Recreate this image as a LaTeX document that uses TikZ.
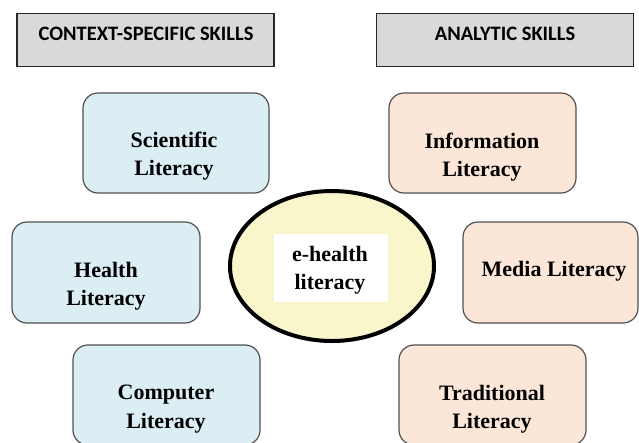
\documentclass[tikz,border=0pt]{standalone}
\usepackage{fontspec}
\setmainfont{Liberation Serif}
\newfontfamily\headfont{Carlito}
\usetikzlibrary{shapes.geometric}
\definecolor{headfill}{HTML}{D9D9D9}
\definecolor{bluefill}{HTML}{DAEEF3}
\definecolor{peachfill}{HTML}{FCE6D8}
\definecolor{corefill}{HTML}{FAF6CC}
\definecolor{boxline}{HTML}{505050}
\tikzset{
  header/.style={draw=black!85, line width=1.3pt, fill=headfill, inner sep=0pt},
  headtext/.style={font=\headfont\bfseries\fontsize{20.5}{24}\selectfont, anchor=base, inner sep=0pt},
  skillbox/.style={draw=boxline, line width=1.2pt, rounded corners=15pt, inner sep=0pt},
  ctxbox/.style={skillbox, fill=bluefill},
  anabox/.style={skillbox, fill=peachfill},
  skilltext/.style={font=\bfseries\fontsize{22}{28.5}\selectfont, align=center, inner sep=0pt},
  core/.style={ellipse, draw=black, line width=4pt, fill=corefill, inner sep=0pt},
}
\begin{document}
\begin{tikzpicture}[x=1pt, y=-1pt]
\useasboundingbox (0,0) rectangle (639,442);
\fill[white] (0,0) rectangle (639,442);

% category headers
\node[header, minimum width=257pt, minimum height=53pt] (hctx) at (145.5,40) {};
\node[headtext] (hctxt) at (146,40.5) {CONTEXT-SPECIFIC SKILLS};
\node[header, minimum width=257pt, minimum height=53pt] (hana) at (505,40) {};
\node[headtext] (hanat) at (505,40.5) {ANALYTIC SKILLS};

% context-specific skills
\node[ctxbox, minimum width=186pt, minimum height=100pt] (sci) at (176,143) {};
\node[skilltext] (scit) at (174,156) {Scientific\\Literacy};
\node[ctxbox, minimum width=188pt, minimum height=101pt] (hea) at (106,272.5) {};
\node[skilltext] (heat) at (106,286) {Health\\Literacy};
\node[ctxbox, minimum width=187pt, minimum height=100pt] (com) at (166.5,395) {};
\node[skilltext] (comt) at (166,409) {Computer\\Literacy};

% analytic skills
\node[anabox, minimum width=187pt, minimum height=100pt] (inf) at (482.5,143) {};
\node[skilltext] (inft) at (482,157) {Information\\Literacy};
\node[anabox, minimum width=175pt, minimum height=101pt] (med) at (550.5,272.5) {};
\node[skilltext] (medt) at (554,271) {Media Literacy};
\node[anabox, minimum width=187pt, minimum height=100pt] (tra) at (492.5,395) {};
\node[skilltext] (trat) at (492,409) {Traditional\\Literacy};

% central concept
\node[core, minimum width=204pt, minimum height=150pt] (ehl) at (332,266) {};
\node[fill=white, minimum width=114pt, minimum height=68pt, inner sep=0pt] (ehlbg) at (331,268) {};
\node[skilltext] (ehlt) at (330,270) {e-health\\literacy};
\end{tikzpicture}
\end{document}
